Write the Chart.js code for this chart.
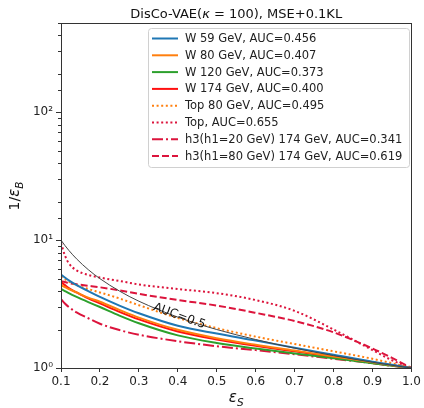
<!DOCTYPE html>
<html><head><meta charset="utf-8">
<script src="https://cdn.jsdelivr.net/npm/chart.js@4.4.0/dist/chart.umd.min.js"></script>
<style>html,body{margin:0;padding:0;background:#fff}#wrap{width:424px;height:408px}</style>
</head><body><div id="wrap"><canvas id="c" width="424" height="408"></canvas></div>
<script>
// signal efficiency grid (x) shared by all curves
const epsS      = [0.10, 0.11, 0.12, 0.14, 0.17, 0.20, 0.25, 0.30, 0.40, 0.50, 0.60, 0.70, 0.80, 0.90, 0.95, 1.00];
// 1/eps_B values
const randomRef = [10.0, 9.09, 8.33, 7.14, 5.88, 5.00, 4.00, 3.33, 2.50, 2.00, 1.67, 1.43, 1.25, 1.11, 1.05, 1.00];
const w59       = [5.38, 5.10, 4.85, 4.45, 4.00, 3.60, 3.08, 2.68, 2.14, 1.86, 1.64, 1.44, 1.27, 1.12, 1.06, 1.00];
const w80       = [4.45, 4.30, 4.15, 3.90, 3.55, 3.30, 2.85, 2.48, 1.99, 1.71, 1.52, 1.37, 1.23, 1.11, 1.05, 1.00];
const w120      = [4.15, 4.00, 3.85, 3.60, 3.28, 3.00, 2.57, 2.24, 1.80, 1.57, 1.42, 1.30, 1.19, 1.09, 1.04, 1.00];
const w174      = [4.70, 4.45, 4.22, 3.90, 3.50, 3.20, 2.75, 2.40, 1.93, 1.67, 1.49, 1.35, 1.22, 1.10, 1.05, 1.00];
const top80     = [5.20, 4.95, 4.75, 4.45, 4.15, 3.90, 3.50, 3.10, 2.46, 2.05, 1.76, 1.54, 1.35, 1.18, 1.09, 1.00];
const topAll    = [9.50, 7.60, 6.60, 5.80, 5.35, 5.10, 4.80, 4.50, 4.15, 3.85, 3.40, 2.80, 2.00, 1.38, 1.15, 1.00];
const h3h1_20   = [3.46, 3.20, 3.00, 2.72, 2.45, 2.22, 1.98, 1.82, 1.62, 1.48, 1.38, 1.28, 1.18, 1.09, 1.04, 1.00];
const h3h1_80   = [4.77, 4.70, 4.62, 4.52, 4.40, 4.28, 4.05, 3.80, 3.40, 3.08, 2.70, 2.33, 1.90, 1.42, 1.20, 1.00];

const seriesLabels = [
  'W 59 GeV, AUC=0.456',
  'W 80 GeV, AUC=0.407',
  'W 120 GeV, AUC=0.373',
  'W 174 GeV, AUC=0.400',
  'Top 80 GeV, AUC=0.495',
  'Top, AUC=0.655',
  'h3(h1=20 GeV) 174 GeV, AUC=0.341',
  'h3(h1=80 GeV) 174 GeV, AUC=0.619'
];
const xTickValues = [0.1, 0.2, 0.3, 0.4, 0.5, 0.6, 0.7, 0.8, 0.9, 1.0];
const xTickLabels = ['0.1', '0.2', '0.3', '0.4', '0.5', '0.6', '0.7', '0.8', '0.9', '1.0'];
const yTickLabels = {1: '10\u2070', 10: '10\u00b9', 100: '10\u00b2'};
const refLabel = 'AUC=0.5';

const FONT = "'DejaVu Sans', sans-serif";
const styles = [
  {color: '#1f77b4', dash: []},
  {color: '#ff7f0e', dash: []},
  {color: '#2ca02c', dash: []},
  {color: '#ff1010', dash: []},
  {color: '#ff7f0e', dash: [2, 2.6]},
  {color: '#dc143c', dash: [2, 2.6]},
  {color: '#dc143c', dash: [11, 3, 2, 3]},
  {color: '#dc143c', dash: [7, 3]}
];
const seriesValues = [w59, w80, w120, w174, top80, topAll, h3h1_20, h3h1_80];

const toPts = arr => epsS.map((x, i) => ({x: x, y: arr[i]}));

const datasets = [{
  label: 'random', data: toPts(randomRef), borderColor: '#444', borderWidth: 1,
  pointRadius: 0, fill: false, cubicInterpolationMode: 'monotone', isRef: true
}];
seriesValues.forEach((arr, i) => {
  datasets.push({
    label: seriesLabels[i], data: toPts(arr), borderColor: styles[i].color,
    borderDash: styles[i].dash, borderWidth: 2, pointRadius: 0, fill: false,
    cubicInterpolationMode: 'monotone'
  });
});

const isPow10 = v => Math.abs(Math.log10(v) - Math.round(Math.log10(v))) < 1e-9;

const deco = {
  id: 'deco',
  afterDatasetsDraw(chart) {
    const ctx = chart.ctx, xs = chart.scales.x, ys = chart.scales.y;
    // AUC=0.5 label along the reference line
    const ref = chart.getDatasetMeta(0).data;
    const p1 = ref[7], p2 = ref[9];
    const ang = Math.atan2(p2.y - p1.y, p2.x - p1.x);
    const cx = xs.getPixelForValue(0.403), cy = ys.getPixelForValue(2.5);
    ctx.save();
    ctx.translate(cx, cy);
    ctx.rotate(ang);
    ctx.font = '12px ' + FONT;
    ctx.fillStyle = '#111';
    ctx.textAlign = 'center';
    ctx.textBaseline = 'middle';
    ctx.fillText(refLabel, 0, -1);
    ctx.restore();
  },
  afterDraw(chart) {
    const ctx = chart.ctx, a = chart.chartArea, ys = chart.scales.y;
    ctx.save();
    // frame
    ctx.strokeStyle = '#333';
    ctx.lineWidth = 1;
    ctx.strokeRect(Math.round(a.left) + 0.5, Math.round(a.top) + 0.5,
      Math.round(a.right - a.left), Math.round(a.bottom - a.top));
    // minor y ticks
    ctx.beginPath();
    ys.ticks.forEach(t => {
      if (!isPow10(t.value)) {
        const y = Math.round(ys.getPixelForValue(t.value)) + 0.5;
        ctx.moveTo(a.left, y); ctx.lineTo(a.left - 3, y);
      }
    });
    ctx.stroke();
    // title
    const segs = [
      {t: 'DisCo-VAE(', f: '13px ' + FONT},
      {t: '\u03ba', f: 'italic 13px ' + FONT},
      {t: ' = 100), MSE+0.1KL', f: '13px ' + FONT}
    ];
    let tw = 0;
    segs.forEach(s => { ctx.font = s.f; s.w = ctx.measureText(s.t).width; tw += s.w; });
    let tx = (a.left + a.right) / 2 - tw / 2;
    ctx.fillStyle = '#111';
    ctx.textBaseline = 'alphabetic';
    ctx.textAlign = 'left';
    segs.forEach(s => { ctx.font = s.f; ctx.fillText(s.t, tx, 17.5); tx += s.w; });
    // x axis title  eps_S
    ctx.font = 'italic 15px ' + FONT;
    const we = ctx.measureText('\u03b5').width;
    ctx.font = 'italic 10.5px ' + FONT;
    const ws = ctx.measureText('S').width;
    let xx = (a.left + a.right) / 2 - (we + ws) / 2;
    ctx.font = 'italic 15px ' + FONT;
    ctx.fillText('\u03b5', xx, 402);
    ctx.font = 'italic 10.5px ' + FONT;
    ctx.fillText('S', xx + we, 405.5);
    // y axis title 1/eps_B
    ctx.save();
    ctx.translate(19, 196);
    ctx.rotate(-Math.PI / 2);
    ctx.font = '14px ' + FONT;
    const w1 = ctx.measureText('1/').width;
    ctx.font = 'italic 15px ' + FONT;
    const w2 = ctx.measureText('\u03b5').width;
    ctx.font = 'italic 10.5px ' + FONT;
    const w3 = ctx.measureText('B').width;
    let yx = -(w1 + w2 + w3) / 2;
    ctx.font = '14px ' + FONT;
    ctx.fillText('1/', yx, 0);
    ctx.font = 'italic 15px ' + FONT;
    ctx.fillText('\u03b5', yx + w1, 0);
    ctx.font = 'italic 10.5px ' + FONT;
    ctx.fillText('B', yx + w1 + w2, 3.5);
    ctx.restore();
    // legend
    const lx = 148.5, ly = 28.5, lw = 261, lh = 139;
    ctx.beginPath();
    ctx.roundRect(lx, ly, lw, lh, 3);
    ctx.fillStyle = 'rgba(255,255,255,0.85)';
    ctx.fill();
    ctx.strokeStyle = '#d0d0d0';
    ctx.lineWidth = 1;
    ctx.stroke();
    ctx.font = '11.5px ' + FONT;
    ctx.textBaseline = 'middle';
    chart.data.datasets.forEach((ds, i) => {
      if (ds.isRef) return;
      const k = i - 1;
      const y = 38.5 + k * 16.8;
      ctx.beginPath();
      ctx.setLineDash(ds.borderDash || []);
      ctx.strokeStyle = ds.borderColor;
      ctx.lineWidth = 2;
      ctx.moveTo(152, y); ctx.lineTo(178, y);
      ctx.stroke();
      ctx.setLineDash([]);
      ctx.fillStyle = '#222';
      ctx.fillText(ds.label, 185, y + 0.5);
    });
    ctx.restore();
  }
};

new Chart(document.getElementById('c'), {
  type: 'line',
  data: {datasets: datasets},
  plugins: [deco],
  options: {
    responsive: false,
    animation: false,
    devicePixelRatio: 1,
    layout: {padding: {top: 23, right: 10, left: 0, bottom: 0}},
    plugins: {legend: {display: false}, title: {display: false}, tooltip: {enabled: false}},
    scales: {
      x: {
        type: 'linear', min: 0.1, max: 1.0,
        afterBuildTicks: s => { s.ticks = xTickValues.map(v => ({value: v})); },
        afterFit: s => { s.height = 40; },
        ticks: {
          autoSkip: false, maxRotation: 0, padding: 3, color: '#222',
          font: {family: 'DejaVu Sans', size: 12},
          callback: (v, i) => xTickLabels[i] !== undefined ? xTickLabels[i] : Number(v).toFixed(1)
        },
        grid: {display: true, drawOnChartArea: false, drawTicks: true, tickLength: 4, color: '#333', tickColor: '#333'},
        border: {display: false}
      },
      y: {
        type: 'logarithmic', min: 1, max: 500,
        afterFit: s => { s.width = 61; },
        ticks: {
          autoSkip: false, padding: 3, color: '#222',
          font: {family: 'DejaVu Sans', size: 12},
          callback: v => yTickLabels[Math.round(v)] && isPow10(v) ? yTickLabels[Math.round(v)] : ''
        },
        grid: {
          display: true, drawOnChartArea: false, drawTicks: true, tickLength: 5,
          tickColor: c => (c.tick && isPow10(c.tick.value)) ? '#333' : 'rgba(0,0,0,0)'
        },
        border: {display: false}
      }
    }
  }
});
</script>
</body></html>
